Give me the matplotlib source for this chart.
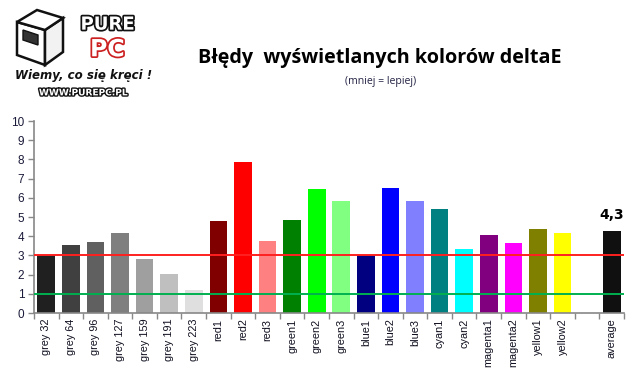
import numpy as np
import matplotlib
matplotlib.use("Agg")
import matplotlib.pyplot as plt
import matplotlib.patheffects as pe
from matplotlib.patches import Polygon

categories = ["grey 32", "grey 64", "grey 96", "grey 127", "grey 159", "grey 191", "grey 223",
              "red1", "red2", "red3", "green1", "green2", "green3",
              "blue1", "blue2", "blue3", "cyan1", "cyan2",
              "magenta1", "magenta2", "yellow1", "yellow2", "", "average"]
delta_e = [3.02, 3.54, 3.70, 4.17, 2.81, 2.03, 1.20,
           4.79, 7.86, 3.75, 4.84, 6.46, 5.83,
           3.02, 6.51, 5.83, 5.42, 3.33,
           4.06, 3.65, 4.37, 4.17, np.nan, 4.27]
bar_colors = ["#202020", "#404040", "#606060", "#7f7f7f", "#9f9f9f", "#bfbfbf", "#dfdfdf",
              "#800000", "#ff0000", "#ff8080", "#008000", "#00ff00", "#80ff80",
              "#000080", "#0000ff", "#8080ff", "#008080", "#00ffff",
              "#800080", "#ff00ff", "#808000", "#ffff00", "#ffffff", "#101010"]
avg_label = "4,3"
limit_red = 3
limit_green = 1
yticks = list(range(0, 11))

W, H = 639, 379
fig = plt.figure(figsize=(W / 100, H / 100), dpi=100)
ax = fig.add_axes([0.0532, 0.1741, 0.9233, 0.5066])

x = np.arange(len(categories))
ax.bar(x, delta_e, width=0.72, color=bar_colors, zorder=2)
ax.axhline(limit_red, color="#ff2020", lw=1.4, zorder=3)
ax.axhline(limit_green, color="#00b050", lw=1.4, zorder=3)

ax.set_xlim(-0.5, len(categories) - 0.5)
ax.set_ylim(0, 10)
ax.set_yticks(yticks)
ax.set_yticklabels([str(t) for t in yticks], fontsize=8.5, color="#1a1a3a",
                   family="Liberation Sans")
ax.set_xticks(np.arange(-0.5, len(categories), 1.0))
ax.set_xticklabels([])
ax.set_xticks(x, minor=True)
ax.set_xticklabels(categories, minor=True, rotation=90, fontsize=7.8,
                   family="Liberation Sans", color="#101020")
ax.tick_params(axis="x", which="major", length=4, color="#888888", width=1)
ax.tick_params(axis="x", which="minor", length=0, pad=4)
ax.tick_params(axis="y", length=4, color="#888888", width=1, pad=3)
for s in ["top", "right"]:
    ax.spines[s].set_visible(False)
for s in ["left", "bottom"]:
    ax.spines[s].set_color("#888888")
    ax.spines[s].set_linewidth(1.2)

ax.text(x[-1], delta_e[-1] + 0.45, avg_label, ha="center", va="bottom",
        fontsize=10, fontweight="bold", family="DejaVu Sans")

fig.text(0.595, 0.848, "Błędy  wyświetlanych kolorów deltaE", ha="center", va="center",
         fontsize=14.2, fontweight="bold", family="Open Sans")
fig.text(0.595, 0.785, "(mniej = lepiej)", ha="center", va="center",
         fontsize=7.6, family="Open Sans", color="#222244")

# logo: simple box outline plus text
def px(pts):
    return [(px_x / W, 1 - px_y / H) for px_x, px_y in pts]

for face, fc in [([(17, 22), (45, 30), (45, 65), (17, 55)], "white"),
                 ([(45, 30), (63, 18), (63, 52), (45, 65)], "#f2f2f2"),
                 ([(17, 22), (37, 10), (63, 18), (45, 30)], "white")]:
    fig.patches.append(Polygon(px(face), closed=True, transform=fig.transFigure,
                               fc=fc, ec="#111111", lw=1.8))
fig.patches.append(Polygon(px([(23, 30), (38, 35), (38, 45), (23, 40)]), closed=True,
                           transform=fig.transFigure, fc="#333333", ec="#111111", lw=1))

outline_k = [pe.withStroke(linewidth=2.5, foreground="#111111")]
outline_r = [pe.withStroke(linewidth=2.5, foreground="#cc1f1f")]
fig.text(0.168, 0.935, "PURE", ha="center", va="center", fontsize=13, color="white",
         fontweight="bold", family="DejaVu Sans", path_effects=outline_k)
fig.text(0.168, 0.87, "PC", ha="center", va="center", fontsize=17, color="white",
         fontweight="bold", family="DejaVu Sans", path_effects=outline_r)
fig.text(0.13, 0.8, "Wiemy, co się kręci !", ha="center", va="center", fontsize=8.5,
         fontweight="bold", style="italic", family="DejaVu Sans", color="#111111")
fig.text(0.13, 0.755, "WWW.PUREPC.PL", ha="center", va="center", fontsize=6.5,
         fontweight="bold", family="DejaVu Sans", color="white",
         path_effects=[pe.withStroke(linewidth=2, foreground="#111111")])

fig.savefig("out.png", dpi=100)
